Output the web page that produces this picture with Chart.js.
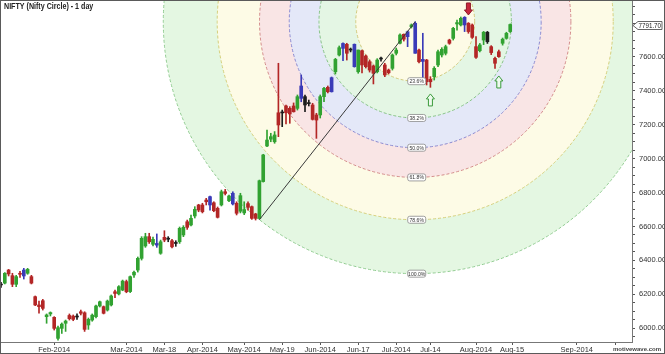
<!DOCTYPE html>
<html>
<head>
<meta charset="utf-8">
<title>NIFTY (Nifty Circle) - 1 day</title>
<script src="https://cdn.jsdelivr.net/npm/chart.js@4.4.1/dist/chart.umd.min.js"></script>
<style>
  html, body { margin: 0; padding: 0; background: #fff; }
  #wrap { width: 665px; height: 354px; position: relative; }
</style>
</head>
<body>
<div id="wrap"><canvas id="niftyChart"></canvas></div>
<script>
// Daily NIFTY bars, one entry per session (mid Jan 2014 .. 14 Aug 2014)
const opens = [
  6255, 6266, 6343, 6310, 6259, 6324, 6308, 6324, 6304, 6186,
  6137, 6162, 6068, 6084, 6064, 5940, 5999, 6029, 6075, 6071,
  6066, 6097, 6091, 6019, 6048, 6068, 6131, 6127, 6107, 6137,
  6215, 6202, 6225, 6275, 6216, 6314, 6343, 6412, 6485, 6540,
  6495, 6490, 6442, 6536, 6525, 6516, 6500, 6510, 6550, 6628,
  6609, 6662, 6727, 6727, 6756, 6727, 6740, 6707, 6727, 6805,
  6752, 6733, 6737, 6690, 6680, 6735, 6717, 6674, 6648, 6865,
  7075, 7115, 7100, 7271, 7270, 7311, 7297, 7311, 7297, 7356,
  7366, 7325, 7317, 7258, 7258, 7366, 7421, 7395, 7513, 7612,
  7651, 7675, 7641, 7675, 7513, 7637, 7606, 7572, 7547, 7513,
  7592, 7553, 7523, 7533, 7622, 7681, 7734, 7720, 7779, 7799,
  7641, 7574, 7582, 7468, 7484, 7553, 7612, 7622, 7700, 7710,
  7795, 7789, 7789, 7799, 7789, 7661, 7637, 7700, 7746, 7661,
  7592, 7631, 7681, 7710, 7750
];
const highs = [
  6270, 6328, 6347, 6324, 6312, 6335, 6353, 6353, 6312, 6190,
  6160, 6170, 6084, 6096, 6068, 6013, 6031, 6048, 6084, 6078,
  6084, 6107, 6097, 6060, 6084, 6137, 6160, 6131, 6166, 6196,
  6225, 6251, 6284, 6284, 6308, 6337, 6420, 6540, 6560, 6560,
  6538, 6556, 6520, 6575, 6540, 6524, 6516, 6597, 6605, 6638,
  6668, 6717, 6731, 6737, 6766, 6780, 6746, 6715, 6815, 6819,
  6786, 6805, 6746, 6796, 6746, 6745, 6721, 6678, 6874, 7026,
  7169, 7150, 7160, 7563, 7287, 7317, 7307, 7329, 7376, 7494,
  7376, 7346, 7327, 7268, 7376, 7421, 7429, 7482, 7592, 7665,
  7684, 7681, 7653, 7677, 7641, 7641, 7612, 7582, 7553, 7590,
  7600, 7563, 7529, 7618, 7653, 7736, 7736, 7753, 7795, 7808,
  7647, 7740, 7586, 7484, 7543, 7641, 7655, 7670, 7705, 7775,
  7818, 7836, 7838, 7803, 7795, 7720, 7680, 7751, 7751, 7667,
  7600, 7641, 7712, 7746, 7795
];
const lows = [
  6240, 6261, 6308, 6245, 6245, 6300, 6290, 6318, 6261, 6133,
  6088, 6107, 6029, 6072, 5989, 5930, 5969, 5981, 6048, 6044,
  6052, 6078, 5981, 5993, 6041, 6060, 6125, 6084, 6101, 6131,
  6180, 6196, 6221, 6209, 6210, 6300, 6331, 6402, 6477, 6500,
  6485, 6477, 6436, 6510, 6510, 6473, 6483, 6500, 6540, 6583,
  6603, 6650, 6687, 6680, 6727, 6697, 6687, 6650, 6721, 6786,
  6746, 6727, 6668, 6680, 6670, 6697, 6642, 6638, 6644, 6862,
  7071, 7100, 7091, 7130, 7189, 7205, 7209, 7275, 7287, 7336,
  7277, 7311, 7228, 7120, 7240, 7336, 7388, 7393, 7500, 7606,
  7578, 7582, 7630, 7540, 7504, 7506, 7535, 7511, 7441, 7506,
  7575, 7484, 7500, 7523, 7612, 7677, 7694, 7661, 7771, 7622,
  7565, 7464, 7435, 7421, 7464, 7543, 7600, 7612, 7675, 7700,
  7759, 7783, 7750, 7740, 7710, 7592, 7630, 7673, 7680, 7614,
  7533, 7598, 7670, 7705, 7745
];
const closes = [
  6255, 6324, 6320, 6259, 6304, 6318, 6343, 6347, 6266, 6137,
  6127, 6117, 6078, 6092, 5999, 6003, 6024, 6042, 6056, 6052,
  6066, 6088, 5993, 6052, 6077, 6131, 6156, 6088, 6160, 6190,
  6205, 6245, 6278, 6215, 6304, 6330, 6412, 6530, 6540, 6510,
  6524, 6500, 6510, 6520, 6525, 6480, 6500, 6589, 6595, 6595,
  6648, 6701, 6697, 6687, 6746, 6776, 6693, 6654, 6805, 6795,
  6780, 6796, 6678, 6782, 6700, 6713, 6648, 6648, 6870, 7022,
  7110, 7130, 7140, 7199, 7270, 7271, 7264, 7277, 7366, 7429,
  7317, 7325, 7232, 7228, 7366, 7415, 7395, 7478, 7586, 7655,
  7680, 7622, 7641, 7543, 7641, 7553, 7543, 7523, 7504, 7582,
  7588, 7494, 7507, 7612, 7641, 7730, 7705, 7749, 7789, 7622,
  7572, 7586, 7454, 7454, 7533, 7631, 7645, 7661, 7681, 7769,
  7803, 7828, 7834, 7750, 7716, 7598, 7671, 7746, 7690, 7626,
  7563, 7602, 7705, 7740, 7791.70
];
// sessions the platform paints blue / black
const blueBars = [6, 41, 55, 61, 79, 87, 90, 93, 107, 109, 111, 122];
const blackBars = [0, 20, 44, 46, 74, 80, 81, 92, 100, 128];

// x axis labels and the session they sit on
const xTickLabels = ['Feb-2014', 'Mar-2014', 'Mar-18', 'Apr-2014', 'May-2014', 'May-19', 'Jun-2014',
  'Jun-17', 'Jul-2014', 'Jul-14', 'Aug-2014', 'Aug-15', 'Sep-2014', ''];
const xTickSessions = [14, 33, 43, 53, 64, 74, 84, 94, 104, 113, 125, 134.5, 151.5, 161.6];
const priceTicks = [6000, 6200, 6400, 6600, 6800, 7000, 7200, 7400, 7600];

// Fibonacci circle: trend line from the May low to the July high
const trendStart = [68, 6640];
const trendEnd = [109, 7808];
const fibLevels = [0.236, 0.382, 0.5, 0.618, 0.786, 1.0];

// signal arrows [session, price at arrow tip]
const downArrows = [[123, 7848]];
const upArrows = [[113, 7382], [131, 7488]];

const TITLE = 'NIFTY (Nifty Circle) - 1 day';
const FONT = "'Liberation Sans', Arial, sans-serif";

// ring colours, same order as fibLevels
const fibFill = ['#fdfbe6', '#e4f6e4', '#e4e8f8', '#f9e5e5', '#fdfbe6', '#e4f7e2'];
const fibStroke = ['#d2ca7c', '#88c488', '#8a8ad2', '#d48c8c', '#d6d07c', '#92cc92'];

function barColor(i) {
  if (blueBars.includes(i)) return '#3a3ab8';
  if (blackBars.includes(i)) return '#1c1c1c';
  return closes[i] >= opens[i] ? '#31a231' : '#b32626';
}

function fibGeometry(chart) {
  const x = chart.scales.x, y = chart.scales.y;
  const x1 = x.getPixelForValue(trendStart[0]), y1 = y.getPixelForValue(trendStart[1]);
  const cx = x.getPixelForValue(trendEnd[0]), cy = y.getPixelForValue(trendEnd[1]);
  return { cx, cy, r: Math.hypot(cx - x1, cy - y1) };
}

// narrow text, the platform uses a condensed face
function narrowText(ctx, text, x, y, squeeze) {
  ctx.save();
  ctx.translate(x, y);
  ctx.scale(squeeze, 1);
  ctx.fillText(text, 0, 0);
  ctx.restore();
}

function drawArrow(ctx, x, tipY, dir, fill, stroke) {
  // dir 1 = points down (tip at bottom), -1 = points up
  const h = 12, head = 5, hw = 4, sw = 2;
  const base = tipY - dir * h, neck = tipY - dir * head;
  ctx.beginPath();
  ctx.moveTo(x, tipY);
  ctx.lineTo(x + hw, neck);
  ctx.lineTo(x + sw, neck);
  ctx.lineTo(x + sw, base);
  ctx.lineTo(x - sw, base);
  ctx.lineTo(x - sw, neck);
  ctx.lineTo(x - hw, neck);
  ctx.closePath();
  ctx.fillStyle = fill;
  ctx.fill();
  ctx.strokeStyle = stroke;
  ctx.lineWidth = 1;
  ctx.stroke();
}

function roundBox(ctx, x, y, w, h, r) {
  ctx.beginPath();
  ctx.moveTo(x + r, y);
  ctx.arcTo(x + w, y, x + w, y + h, r);
  ctx.arcTo(x + w, y + h, x, y + h, r);
  ctx.arcTo(x, y + h, x, y, r);
  ctx.arcTo(x, y, x + w, y, r);
  ctx.closePath();
}

const fibPlugin = {
  id: 'fibCircles',
  beforeDatasetsDraw(chart) {
    const { ctx, chartArea: a } = chart;
    const g = fibGeometry(chart);
    ctx.save();
    ctx.beginPath();
    ctx.rect(a.left, a.top, a.right - a.left, a.bottom - a.top);
    ctx.clip();
    // fills, biggest ring first
    for (let k = fibLevels.length - 1; k >= 0; k--) {
      ctx.beginPath();
      ctx.arc(g.cx, g.cy, g.r * fibLevels[k], 0, Math.PI * 2);
      ctx.fillStyle = fibFill[k];
      ctx.fill();
    }
    ctx.setLineDash([3, 2]);
    ctx.lineWidth = 1;
    fibLevels.forEach((lv, k) => {
      ctx.beginPath();
      ctx.arc(g.cx, g.cy, g.r * lv, 0, Math.PI * 2);
      ctx.strokeStyle = fibStroke[k];
      ctx.stroke();
    });
    ctx.restore();
  },
  afterDatasetsDraw(chart) {
    const { ctx, chartArea: a, scales: { x, y } } = chart;
    const g = fibGeometry(chart);
    ctx.save();
    ctx.beginPath();
    ctx.rect(a.left, a.top, a.right - a.left, a.bottom - a.top);
    ctx.clip();
    // level tags at the bottom of every circle
    ctx.font = '6px ' + FONT;
    ctx.textAlign = 'center';
    ctx.textBaseline = 'middle';
    fibLevels.forEach(lv => {
      const ty = g.cy + g.r * lv;
      const tx = g.cx + 1.5;
      roundBox(ctx, tx - 9, ty - 3.5, 18, 7, 2);
      ctx.fillStyle = '#ffffff';
      ctx.fill();
      ctx.strokeStyle = '#8a8a8a';
      ctx.lineWidth = 0.8;
      ctx.stroke();
      ctx.fillStyle = '#333';
      narrowText(ctx, (lv * 100).toFixed(1) + '%', tx, ty + 0.3, 0.85);
    });
    downArrows.forEach(p => drawArrow(ctx, x.getPixelForValue(p[0]), y.getPixelForValue(p[1]), 1, '#c8283c', '#8e1a2a'));
    upArrows.forEach(p => drawArrow(ctx, x.getPixelForValue(p[0]), y.getPixelForValue(p[1]), -1, '#eefaee', '#3a9a3a'));
    ctx.restore();
  },
  afterDraw(chart) {
    const { ctx, chartArea: a, scales: { y } } = chart;
    ctx.save();
    // title
    ctx.font = 'bold 9px ' + FONT;
    ctx.fillStyle = '#222';
    ctx.textAlign = 'left';
    ctx.textBaseline = 'middle';
    narrowText(ctx, TITLE, 4, 7, 0.79);
    // last price tag
    const last = closes[closes.length - 1];
    const py = Math.round(y.getPixelForValue(last)) + 0.5;
    const px = a.right + 1;
    ctx.beginPath();
    ctx.moveTo(px, py);
    ctx.lineTo(px + 5, py - 4);
    ctx.lineTo(662, py - 4);
    ctx.lineTo(662, py + 4);
    ctx.lineTo(px + 5, py + 4);
    ctx.closePath();
    ctx.fillStyle = '#fff';
    ctx.fill();
    ctx.strokeStyle = '#666';
    ctx.lineWidth = 1;
    ctx.stroke();
    ctx.font = '8px ' + FONT;
    ctx.fillStyle = '#222';
    narrowText(ctx, last.toFixed(2), px + 5.5, py + 0.5, 0.78);
    // watermark
    ctx.font = 'bold 6px ' + FONT;
    ctx.fillStyle = '#444';
    ctx.textAlign = 'right';
    ctx.fillText('motivewave.com', 661, 349);
    // outer frame
    ctx.strokeStyle = '#5a5a5a';
    ctx.lineWidth = 1;
    ctx.strokeRect(0.5, 0.5, 664, 353);
    ctx.restore();
  }
};

// candle pieces as floating bars
const wickData = highs.map((h, i) => ({ x: i, y: [lows[i], h] }));
const bodyData = opens.map((o, i) => ({ x: i, y: [o, closes[i]] }));
const colors = opens.map((o, i) => barColor(i));

const ctx = document.getElementById('niftyChart').getContext('2d');
window.niftyChart = new Chart(ctx, {
  type: 'bar',
  data: {
    datasets: [
      {
        type: 'line',
        label: 'Trend',
        data: [{ x: trendStart[0], y: trendStart[1] }, { x: trendEnd[0], y: trendEnd[1] }],
        borderColor: '#3a3a3a',
        borderWidth: 1,
        pointRadius: 0,
        order: 0
      },
      {
        label: 'Body',
        data: bodyData,
        backgroundColor: colors,
        borderWidth: 0,
        barThickness: 3,
        minBarLength: 1,
        grouped: false,
        order: 1
      },
      {
        label: 'Wick',
        data: wickData,
        backgroundColor: colors,
        borderWidth: 0,
        barThickness: 1,
        minBarLength: 1,
        grouped: false,
        order: 2
      }
    ]
  },
  options: {
    responsive: true,
    maintainAspectRatio: false,
    animation: false,
    devicePixelRatio: 1,
    layout: { padding: { left: 1, top: 1, right: 0, bottom: 0 } },
    plugins: { legend: { display: false }, tooltip: { enabled: false }, title: { display: false } },
    scales: {
      x: {
        type: 'linear',
        min: 0,
        max: 166.05,
        offset: false,
        grid: { drawOnChartArea: false, offset: false, tickLength: 3, color: '#555' },
        border: { color: '#777' },
        afterBuildTicks: s => { s.ticks = xTickSessions.map(v => ({ value: v })); },
        afterFit: s => { s.height = 12; s.paddingLeft = 0; s.paddingRight = 0; },
        ticks: {
          autoSkip: false,
          maxRotation: 0,
          padding: 0,
          color: '#333',
          font: { family: FONT, size: 7.5 },
          callback: (v, i) => xTickLabels[i]
        }
      },
      y: {
        type: 'linear',
        position: 'right',
        min: 5918.5,
        max: 7930.4,
        grid: { drawOnChartArea: false, tickLength: 3, color: '#555' },
        border: { color: '#777' },
        afterBuildTicks: s => {
          const t = [];
          for (let v = Math.ceil(s.min / 50) * 50; v <= s.max; v += 50) t.push({ value: v });
          s.ticks = t;
        },
        afterFit: s => { s.width = 33; s.paddingTop = 0; s.paddingBottom = 0; },
        ticks: {
          autoSkip: false,
          padding: 4,
          color: '#333',
          font: { family: FONT, size: 7.5 },
          callback: v => priceTicks.includes(v) ? v.toFixed(2) : ''
        }
      }
    }
  },
  plugins: [fibPlugin]
});
</script>
</body>
</html>
